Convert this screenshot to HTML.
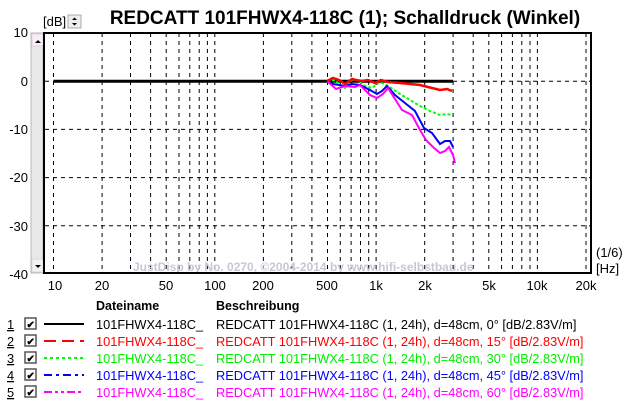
<!DOCTYPE html>
<html><head><meta charset="utf-8"><style>
body{margin:0;background:#fff}
svg{display:block;font-family:"Liberation Sans",Arial,sans-serif}
</style></head><body>
<svg width="624" height="404" viewBox="0 0 624 404" xmlns="http://www.w3.org/2000/svg">
<rect width="624" height="404" fill="#fff"/>
<text x="345" y="24" font-size="19" font-weight="bold" text-anchor="middle">REDCATT 101FHWX4-118C (1); Schalldruck (Winkel)</text>
<text x="43" y="26" font-size="13">[dB]</text>
<rect x="68" y="15" width="13" height="13" fill="#eee" stroke="#999" stroke-width="0.8"/>
<path d="M72 20 l2.5-2.5 2.5 2.5z M72 23 l2.5 2.5 2.5-2.5z" fill="#000"/>
<rect x="31" y="33" width="12" height="240" fill="#e8e8e8" stroke="#aaa" stroke-width="0.8"/>
<rect x="32" y="34" width="11" height="12" fill="#f4f0f4" stroke="#e6c0d0" stroke-width="0.6"/>
<path d="M35 43 l3-3 3 3z" fill="#000"/>
<rect x="32" y="259" width="11" height="13" fill="#eef4f4" stroke="#e6c0d0" stroke-width="0.6"/>
<path d="M35 265 l3 3 3-3z" fill="#000"/>
<g font-size="13" text-anchor="end">
<text x="28" y="37">10</text><text x="28" y="86">0</text><text x="28" y="134">-10</text>
<text x="28" y="182">-20</text><text x="28" y="231">-30</text><text x="28" y="279">-40</text>
</g>
<g stroke="#000" stroke-width="1" stroke-dasharray="4,4">
<path d="M53.5 33V273M102.1 33V273M130.5 33V273M150.6 33V273M166.2 33V273M179 33V273M189.8 33V273M199.2 33V273M207.4 33V273M214.8 33V273M263.4 33V273M291.8 33V273M311.9 33V273M327.5 33V273M340.3 33V273M351.1 33V273M360.5 33V273M368.7 33V273M376.1 33V273M424.7 33V273M453.1 33V273M473.2 33V273M488.8 33V273M501.6 33V273M512.4 33V273M521.8 33V273M530 33V273M537.4 33V273M586 33V273"/>
<path d="M45 81.2H590M45 129.4H590M45 177.6H590M45 225.8H590"/>
</g>
<text x="133" y="271" font-size="12" font-weight="bold" fill="#c8c8d4">JustDisp by No. 0270, ©2004-2014 by www.hifi-selbstbau.de</text>
<rect x="44" y="33" width="547" height="240" fill="none" stroke="#000" stroke-width="2"/>
<path d="M53.5 81.2H453" stroke="#000" stroke-width="3" fill="none"/>
<g fill="none" stroke-width="2">
<polyline stroke="#00ff00" stroke-dasharray="3,2" points="327,81 335,80 340,85 345,88 352,80 357,80 365,86 372,88 380,82 388,86 400,94 410,100 420,106 430,111 440,115 447,114 452,115"/>
<polyline stroke="#0000ff" points="327,81 333,84 345,86 352,84 360,85 370,90 377,94 382,91 387,86 395,95 405,103 415,111 424,128 432,133 440,144 445,141 450,141 453,147"/>
<polyline stroke="#ff00ff" points="327,81 336,89 345,86 355,87 360,85 370,95 377,98 383,94 388,88 395,99 402,110 412,115 420,130 426,140 433,147 440,153 445,151 449,147 453,155 455,163"/>
<polyline stroke="#ff0000" stroke-width="2.5" points="327,81 333,78 339,80 345,84 352,79 356,80 362,81 368,80 375,83 381,80 388,82 400,83 420,85 440,90 447,89 452,91"/>
</g>
<g font-size="13" text-anchor="middle">
<text x="55" y="290">10</text><text x="102" y="290">20</text><text x="166" y="290">50</text>
<text x="215" y="290">100</text><text x="263" y="290">200</text><text x="327" y="290">500</text>
<text x="376" y="290">1k</text><text x="425" y="290">2k</text><text x="489" y="290">5k</text>
<text x="537" y="290">10k</text><text x="586" y="290">20k</text>
</g>
<text x="596" y="257" font-size="13">(1/6)</text>
<text x="596" y="273" font-size="13">[Hz]</text>
<g font-size="12.5">
<text x="96" y="310" font-weight="bold">Dateiname</text>
<text x="216" y="310" font-weight="bold">Beschreibung</text>
</g>
<g font-size="12.8">
<g>
<text x="7" y="329" text-decoration="underline">1</text><rect x="25" y="318" width="11" height="11" fill="#fff" stroke="#555" stroke-width="1.5"/><text x="26.5" y="328" font-size="10" font-weight="bold">✔</text>
<path d="M44 324H84" stroke="#000" stroke-width="2"/>
<text x="96" y="329">101FHWX4-118C_</text><text x="216" y="329">REDCATT 101FHWX4-118C (1, 24h), d=48cm, 0° [dB/2.83V/m]</text></g>
<g fill="#ff0000"><text x="7" y="346" fill="#000" text-decoration="underline">2</text><rect x="25" y="335" width="11" height="11" fill="#fff" stroke="#555" stroke-width="1.5"/><text x="26.5" y="345" font-size="10" font-weight="bold" fill="#000">✔</text>
<path d="M44 341H84" stroke="#ff0000" stroke-width="2" stroke-dasharray="12,6"/>
<text x="96" y="346">101FHWX4-118C_</text><text x="216" y="346">REDCATT 101FHWX4-118C (1, 24h), d=48cm, 15° [dB/2.83V/m]</text></g>
<g fill="#00ee00"><text x="7" y="363" fill="#000" text-decoration="underline">3</text><rect x="25" y="352" width="11" height="11" fill="#fff" stroke="#555" stroke-width="1.5"/><text x="26.5" y="362" font-size="10" font-weight="bold" fill="#000">✔</text>
<path d="M44 358H84" stroke="#00ff00" stroke-width="2" stroke-dasharray="3,3"/>
<text x="96" y="363">101FHWX4-118C_</text><text x="216" y="363">REDCATT 101FHWX4-118C (1, 24h), d=48cm, 30° [dB/2.83V/m]</text></g>
<g fill="#0000ff"><text x="7" y="380" fill="#000" text-decoration="underline">4</text><rect x="25" y="369" width="11" height="11" fill="#fff" stroke="#555" stroke-width="1.5"/><text x="26.5" y="379" font-size="10" font-weight="bold" fill="#000">✔</text>
<path d="M44 375H84" stroke="#0000ff" stroke-width="2" stroke-dasharray="8,4,3,4"/>
<text x="96" y="380">101FHWX4-118C_</text><text x="216" y="380">REDCATT 101FHWX4-118C (1, 24h), d=48cm, 45° [dB/2.83V/m]</text></g>
<g fill="#ff00ff"><text x="7" y="397" fill="#000" text-decoration="underline">5</text><rect x="25" y="386" width="11" height="11" fill="#fff" stroke="#555" stroke-width="1.5"/><text x="26.5" y="396" font-size="10" font-weight="bold" fill="#000">✔</text>
<path d="M44 392H84" stroke="#ff00ff" stroke-width="2" stroke-dasharray="8,3,3,3,3,3"/>
<text x="96" y="397">101FHWX4-118C_</text><text x="216" y="397">REDCATT 101FHWX4-118C (1, 24h), d=48cm, 60° [dB/2.83V/m]</text></g>
</g>
</svg>
</body></html>
